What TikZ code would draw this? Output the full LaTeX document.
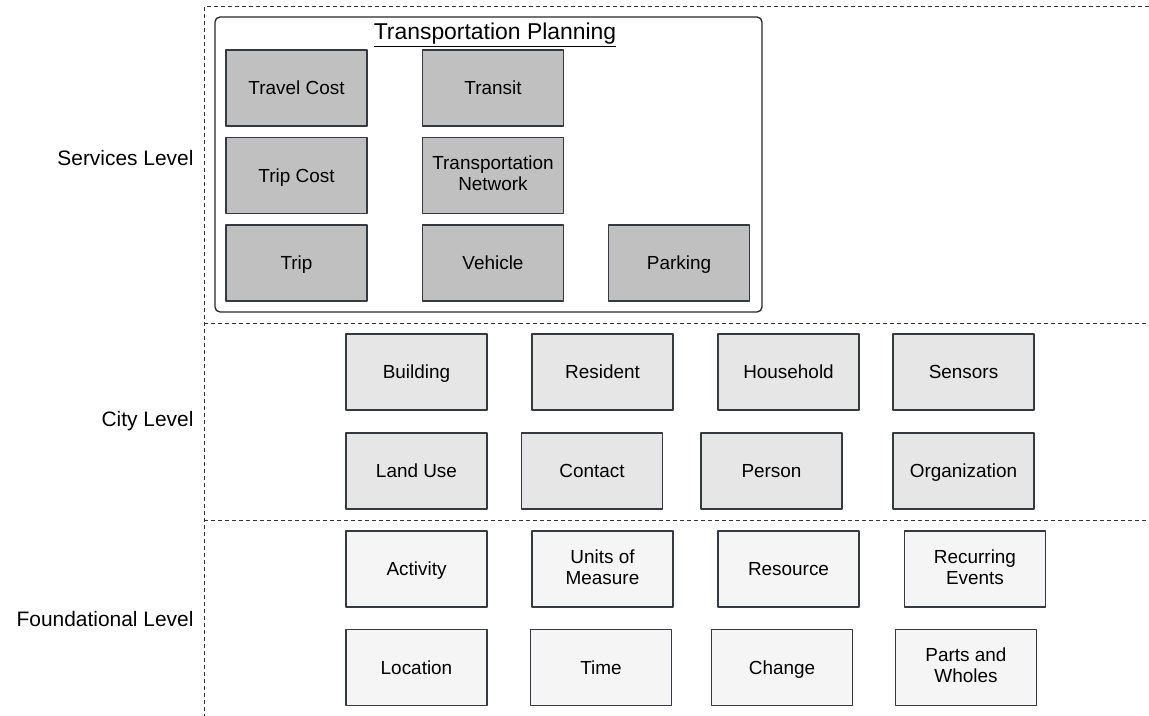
\documentclass[tikz,border=0pt]{standalone}
\usepackage{fontspec}
\setmainfont{Liberation Sans}
\definecolor{servfill}{HTML}{C0C0C0}
\definecolor{cityfill}{HTML}{E6E6E6}
\definecolor{foundfill}{HTML}{F5F5F5}
\definecolor{boxline}{HTML}{36393D}
\newcommand{\capstrut}{\rule[-4bp]{0pt}{21.6bp}}
\tikzset{
	concept/.style={draw=boxline, line width=1.3bp, minimum width=141bp, minimum height=76bp, inner sep=2bp, align=center, font=\fontsize{19}{21}\selectfont, execute at begin node=\capstrut, execute at end node=\capstrut},
	levelline/.style={dash pattern=on 4bp off 3bp, line width=1bp, draw=black!80},
	levellabel/.style={anchor=east, font=\fontsize{21}{24}\selectfont}
}
\begin{document}
\begin{tikzpicture}[x=1bp, y=-1bp, line join=round]
	\useasboundingbox (0,0) rectangle (1149,716);
	\draw[levelline] (1149,7)--(204,7)--(204,716);
	\draw[levelline] (204,323)--(1149,323);
	\draw[levelline] (204,520)--(1149,520);
	\node[levellabel] (services) at (197,158) {Services Level};
	\node[levellabel] (city) at (197,421) {City Level};
	\node[levellabel] (foundational) at (197,619) {Foundational Level};
	\node[draw=black!85, line width=1.3bp, rounded corners=5bp, minimum width=547bp, minimum height=295bp] (planning) at (488.5,164.5) {};
	\node[font=\fontsize{23}{26}\selectfont] (planningtitle) at (495,35) {\underline{Transportation Planning}};
	\foreach \n/\x/\y/\t in {travelcost/296.5/88/Travel Cost, transit/493/88/Transit, tripcost/296.5/175.5/Trip Cost, transnet/493/175.5/Transportation\\Network, trip/296.5/263/Trip, vehicle/493/263/Vehicle, parking/679/263/Parking}
		{\node[concept, fill=servfill] (\n) at (\x,\y) {\t};}
	\foreach \n/\x/\y/\t in {building/416.5/372/Building, resident/602.5/372/Resident, household/788.5/372/Household, sensors/963.5/372/Sensors, landuse/416.5/471/Land Use, contact/592/471/Contact, person/771.5/471/Person, organization/963.5/471/Organization}
		{\node[concept, fill=cityfill] (\n) at (\x,\y) {\t};}
	\foreach \n/\x/\y/\t in {activity/416.5/569/Activity, units/602.5/569/Units of\\Measure, resource/788.5/569/Resource, recurring/975/569/Recurring\\Events, location/416.5/667.5/Location, time/601/667.5/Time, change/782/667.5/Change, parts/966/667.5/Parts and\\Wholes}
		{\node[concept, fill=foundfill] (\n) at (\x,\y) {\t};}
\end{tikzpicture}
\end{document}
